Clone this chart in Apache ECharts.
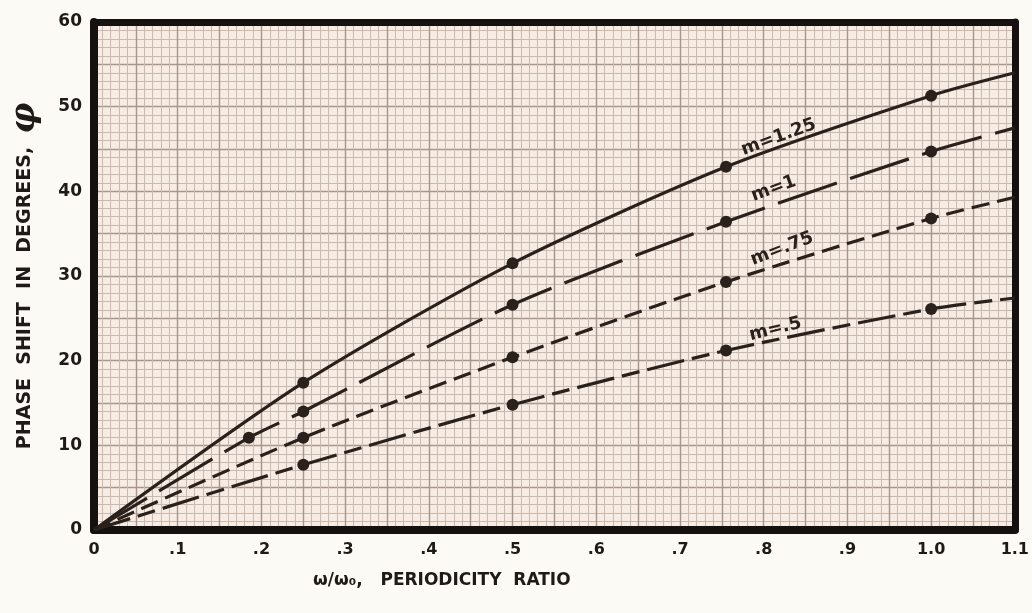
<!DOCTYPE html>
<html>
<head>
<meta charset="utf-8">
<script src="https://cdn.jsdelivr.net/npm/echarts@6/dist/echarts.min.js"></script>
<style>
  html, body { margin: 0; padding: 0; background: #fbfaf5; }
  #main { width: 1032px; height: 613px; }
</style>
</head>
<body>
<div id="main"></div>
<script>
// tick labels as lettered on the sheet
var xTicks = ['0', '.1', '.2', '.3', '.4', '.5', '.6', '.7', '.8', '.9', '1.0', '1.1'];
var yTicks = ['0', '10', '20', '30', '40', '50', '60'];

// curve names, plotted dots and where each curve leaves the right edge (x = 1.1)
var curveNames = ['m=1.25', 'm=1', 'm=.75', 'm=.5'];
var dotX = [
  [0.25, 0.5, 0.755, 1.0],
  [0.185, 0.25, 0.5, 0.755, 1.0],
  [0.25, 0.5, 0.755, 1.0],
  [0.25, 0.5, 0.755, 1.0]
];
var dotY = [
  [17.4, 31.5, 42.9, 51.3],
  [10.9, 14.0, 26.6, 36.4, 44.7],
  [10.9, 20.4, 29.3, 36.8],
  [7.7, 14.8, 21.2, 26.1]
];
var endY = [54.0, 47.5, 39.3, 27.4];

// where the hand lettered curve names sit (data coords)
var labelX = [0.818, 0.812, 0.822, 0.814];
var labelY = [46.4, 40.3, 33.2, 23.7];

var ink = '#2a201c';
var dashes = ['solid', [62, 14], [18, 8], [38, 8, 18, 8]];
var tilt = [20, 20, 21, 14];

var chart = echarts.init(document.getElementById('main'));

var series = [];
curveNames.forEach(function (name, i) {
  var pts = [[0, 0]];
  dotX[i].forEach(function (x, j) { pts.push([x, dotY[i][j]]); });
  pts.push([1.1, endY[i]]);
  series.push({
    name: name,
    type: 'line',
    data: pts,
    smooth: 0.25,
    showSymbol: false,
    lineStyle: { color: ink, width: 3.2, type: dashes[i] },
    z: 3
  });
  series.push({
    type: 'scatter',
    data: dotX[i].map(function (x, j) { return [x, dotY[i][j]]; }),
    symbolSize: 12,
    itemStyle: { color: ink, opacity: 1 },
    z: 4
  });
  series.push({
    type: 'scatter',
    data: [{ value: [labelX[i], labelY[i]], name: name }],
    symbolSize: 1,
    itemStyle: { color: ink, opacity: 1 },
    label: {
      show: true,
      position: 'inside',
      formatter: '{b}',
      rotate: tilt[i],
      color: ink,
      fontFamily: 'DejaVu Sans',
      fontWeight: 'bold',
      fontSize: 18
    },
    z: 5
  });
});

var option = {
  backgroundColor: '#fbfaf5',
  animation: false,
  grid: {
    left: 93, right: 4, top: 22, bottom: 83,
    show: true, backgroundColor: '#f7ece3', borderWidth: 0
  },
  xAxis: [
    {
      type: 'value', min: 0, max: 1.1, interval: 0.05,
      axisLine: { show: true, onZero: false, lineStyle: { color: '#161111', width: 8 } },
      axisTick: { show: false },
      axisLabel: {
        margin: 12, color: '#1e1a18', fontFamily: 'DejaVu Sans', fontWeight: 'bold', fontSize: 16,
        formatter: function (v) {
          var k = Math.round(v * 100);
          return k % 10 === 0 ? xTicks[k / 10] : '';
        }
      },
      splitLine: { show: true, lineStyle: { color: '#a8958b', width: 1.4 } },
      minorTick: { show: false, splitNumber: 5 },
      minorSplitLine: { show: true, lineStyle: { color: '#c9b9af', width: 1 } }
    },
    {
      type: 'value', min: 0, max: 1.1, position: 'top',
      axisLine: { show: true, onZero: false, lineStyle: { color: '#161111', width: 7 } },
      axisTick: { show: false }, axisLabel: { show: false }, splitLine: { show: false }
    }
  ],
  yAxis: [
    {
      type: 'value', min: 0, max: 60, interval: 5,
      name: 'PHASE  SHIFT  IN  DEGREES,  {phi|φ}',
      nameLocation: 'middle', nameGap: 52,
      nameTextStyle: {
        color: '#1e1a18', fontFamily: 'DejaVu Sans', fontWeight: 'bold', fontSize: 19,
        rich: { phi: { fontFamily: 'DejaVu Serif', fontStyle: 'italic', fontSize: 34, color: '#1e1a18' } }
      },
      axisLine: { show: true, onZero: false, lineStyle: { color: '#161111', width: 8 } },
      axisTick: { show: false },
      axisLabel: {
        margin: 12, color: '#1e1a18', fontFamily: 'DejaVu Sans', fontWeight: 'bold', fontSize: 17,
        formatter: function (v) { return v % 10 === 0 ? yTicks[v / 10] : ''; }
      },
      splitLine: { show: true, lineStyle: { color: '#a8958b', width: 1.4 } },
      minorTick: { show: false, splitNumber: 5 },
      minorSplitLine: { show: true, lineStyle: { color: '#c9b9af', width: 1 } }
    },
    {
      type: 'value', min: 0, max: 60, position: 'right',
      axisLine: { show: true, onZero: false, lineStyle: { color: '#161111', width: 7 } },
      axisTick: { show: false }, axisLabel: { show: false }, splitLine: { show: false }
    }
  ],
  graphic: [{
    type: 'text', left: 313, top: 572,
    style: {
      text: 'ω/ω₀,   PERIODICITY  RATIO',
      fill: '#1e1a18', font: 'bold 17px "DejaVu Sans"'
    }
  }],
  series: series
};

chart.setOption(option);
</script>
</body>
</html>
